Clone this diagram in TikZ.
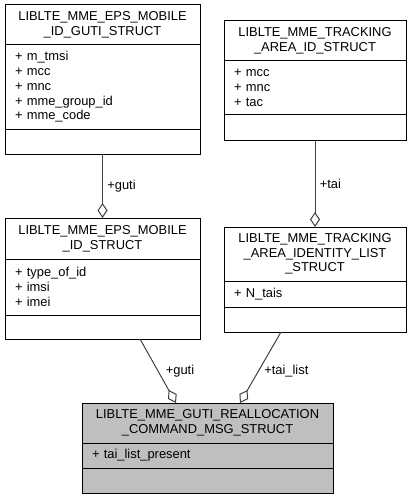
\documentclass[tikz,border=0pt]{standalone}
\usepackage{fontspec}
\setmainfont{Liberation Sans}
\usetikzlibrary{arrows.meta, positioning}

\begin{document}
\begin{tikzpicture}[
    x=1pt, y=-1pt,
    font=\fontsize{12.9}{14.7}\selectfont,
    headbox/.style={draw=black, line width=1pt, fill=white, rectangle, outer sep=0pt, inner xsep=10pt, inner ysep=0pt, text width=#1, align=center},
    attrbox/.style={draw=black, line width=1pt, fill=white, rectangle, outer sep=0pt, inner xsep=10pt, inner ysep=0pt, text width=#1, align=left},
    opbox/.style={attrbox=#1, minimum height=25pt},
    link/.style={draw=black!75, line width=1pt, {Diamond[open, length=15pt, width=10pt]}-},
    lbl/.style={right}
]
\useasboundingbox (0,0) rectangle (410,500);

\node[headbox=175pt, anchor=north west, minimum height=40pt] (gutiT) at (5,5) {LIBLTE\_MME\_EPS\_MOBILE\\\_ID\_GUTI\_STRUCT};
\node[attrbox=175pt, below=0pt of gutiT, minimum height=84pt] (gutiA) {+ m\_tmsi\\+ mcc\\+ mnc\\+ mme\_group\_id\\+ mme\_code};
\node[opbox=175pt, below=0pt of gutiA] (gutiM) {};

\node[headbox=175pt, below=64pt of gutiM, minimum height=41pt] (mobT) {LIBLTE\_MME\_EPS\_MOBILE\\\_ID\_STRUCT};
\node[attrbox=175pt, below=0pt of mobT, minimum height=56pt] (mobA) {+ type\_of\_id\\+ imsi\\+ imei};
\node[opbox=175pt, below=0pt of mobA, minimum height=24pt] (mobM) {};

\node[headbox=162pt, anchor=north west, minimum height=40pt] (tacT) at (224,21) {LIBLTE\_MME\_TRACKING\\\_AREA\_ID\_STRUCT};
\node[attrbox=162pt, below=0pt of tacT, minimum height=54pt] (tacA) {+ mcc\\+ mnc\\+ tac};
\node[opbox=162pt, below=0pt of tacA] (tacM) {};

\node[headbox=162pt, below=87pt of tacM, minimum height=54pt] (listT) {LIBLTE\_MME\_TRACKING\\\_AREA\_IDENTITY\_LIST\\\_STRUCT};
\node[attrbox=162pt, below=0pt of listT, minimum height=26pt] (listA) {+ N\_tais};
\node[opbox=162pt, below=0pt of listA] (listM) {};

% main struct
\node[headbox=231pt, anchor=north west, minimum height=40pt, fill=gray!50] (cmdT) at (82,403) {LIBLTE\_MME\_GUTI\_REALLOCATION\\\_COMMAND\_MSG\_STRUCT};
\node[attrbox=231pt, below=0pt of cmdT, minimum height=25pt, fill=gray!50] (cmdA) {+ tai\_list\_present};
\node[opbox=231pt, below=0pt of cmdA, fill=gray!50] (cmdM) {};

\draw[link] (mobT.north) -- (gutiM.south) node[midway, lbl, xshift=1pt] {+guti};
\draw[link] (listT.north) -- (tacM.south) node[midway, lbl, xshift=1pt] {+tai};
\draw[link] ([xshift=-31.5pt]cmdT.north) -- ([xshift=37.5pt]mobM.south) node[pos=0.5, lbl, xshift=4pt] {+guti};
\draw[link] ([xshift=32.5pt]cmdT.north) -- ([xshift=-34pt]listM.south) node[pos=0.45, lbl, xshift=2pt] {+tai\_list};

\end{tikzpicture}
\end{document}
